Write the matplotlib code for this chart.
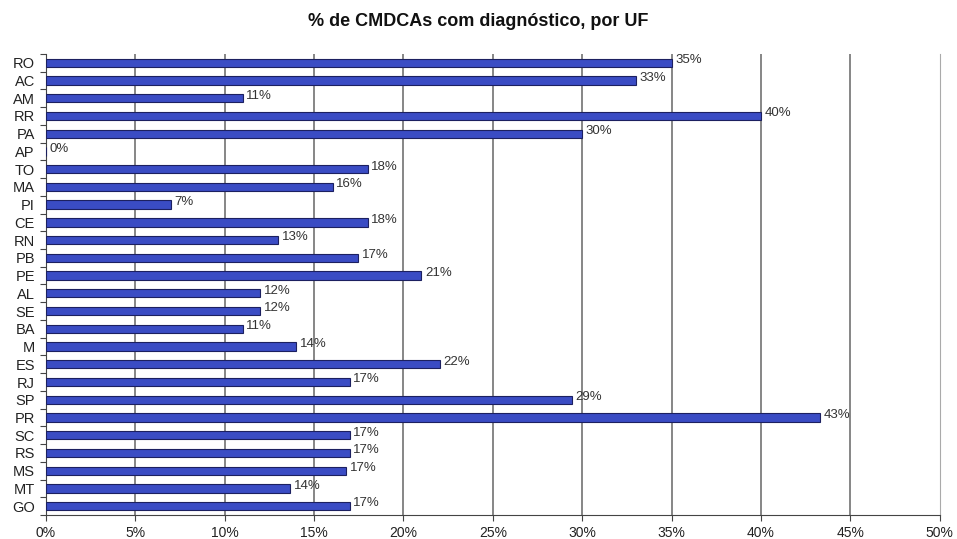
import matplotlib

matplotlib.use("Agg")
import matplotlib.pyplot as plt
from matplotlib.ticker import FixedLocator, FuncFormatter

# UF, de cima para baixo
ufs = ["RO", "AC", "AM", "RR", "PA", "AP", "TO", "MA", "PI", "CE", "RN", "PB", "PE",
       "AL", "SE", "BA", "M", "ES", "RJ", "SP", "PR", "SC", "RS", "MS", "MT", "GO"]
pct = [35.0, 33.0, 11.0, 40.0, 30.0, 0.0, 18.0, 16.05, 7.0, 18.0, 13.0, 17.45, 21.0,
       12.0, 12.0, 11.0, 14.0, 22.05, 17.0, 29.4, 43.3, 17.0, 17.0, 16.8, 13.65, 17.0]
xticks = [0, 5, 10, 15, 20, 25, 30, 35, 40, 45, 50]

plt.rcParams["font.family"] = ["Liberation Sans", "DejaVu Sans"]

fig = plt.figure(figsize=(9.57, 5.39), dpi=100)
ax = fig.add_axes([0.048, 0.0445, 0.934, 0.8555])

pos = list(range(len(ufs)))
ax.barh(pos, pct, height=0.47, color="#3a4cc4", edgecolor="#1c2060", linewidth=0.8, zorder=3)
for y, v in zip(pos, pct):
    ax.text(v + 0.2, y - 0.15, f"{round(v):d}%", fontsize=9.5, color="#333333",
            va="center", ha="left", zorder=4)

ax.set_xlim(0, 50)
ax.set_ylim(len(ufs) - 0.5, -0.5)

ax.set_xticks(xticks)
ax.xaxis.set_major_formatter(FuncFormatter(lambda v, _: f"{v:.0f}%"))
ax.tick_params(axis="x", length=4, width=0.8, color="#444444", labelsize=10, pad=4,
               labelcolor="#222222")

# rótulos no centro das barras, marcas nas divisas entre categorias
ax.set_yticks(pos)
ax.set_yticklabels(ufs)
ax.tick_params(axis="y", which="major", length=0, labelsize=10.5, pad=8,
               labelcolor="#222222")
ax.yaxis.set_minor_locator(FixedLocator([p + 0.5 for p in pos] + [-0.5]))
ax.tick_params(axis="y", which="minor", length=4, width=0.8, color="#444444")

# grade até 45%, a borda de 50% fica mais clara
for xv in xticks[1:-1]:
    ax.axvline(xv, color="#666666", lw=1.1, zorder=0)
ax.spines["top"].set_visible(False)
ax.spines["right"].set_color("#aaaaaa")
ax.spines["left"].set_color("#444444")
ax.spines["bottom"].set_color("#444444")

fig.text(0.5, 0.96, "% de CMDCAs com diagnóstico, por UF", ha="center", va="center",
         fontsize=13, fontweight="bold", color="#111111")

fig.savefig("out.png", dpi=100)
